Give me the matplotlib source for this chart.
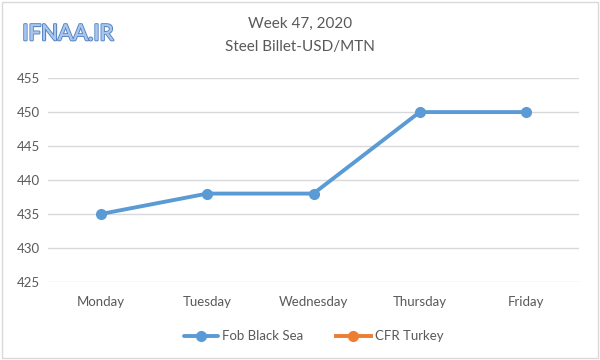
import matplotlib
matplotlib.use("Agg")
import matplotlib.pyplot as plt
import matplotlib.patheffects as pe
from matplotlib.patches import Rectangle

days = ["Monday", "Tuesday", "Wednesday", "Thursday", "Friday"]
fob_black_sea = [435, 438, 438, 450, 450]
cfr_turkey = [None, None, None, None, None]
yticks = [425, 430, 435, 440, 445, 450, 455]

plt.rcParams['font.family'] = ['Lato', 'DejaVu Sans']

fig = plt.figure(figsize=(6, 3.6), dpi=100)
ax = fig.add_axes([0.08, 0.217, 0.885, 0.566])

x = list(range(len(days)))
ax.plot(x, fob_black_sea, color="#5B9BD5", lw=2.8, marker="o", ms=7,
        label="Fob Black Sea", solid_capstyle="round")
cfr_vals = [float('nan') if v is None else v for v in cfr_turkey]
ax.plot(x, cfr_vals, color="#ED7D31", lw=2.8, marker="o", ms=7, label="CFR Turkey")

ax.set_xlim(-0.5, len(days) - 0.5)
ax.set_ylim(425, 455)
ax.set_yticks(yticks)
ax.set_xticks(x)
ax.set_xticklabels(days)
ax.grid(axis="y", color="#D9D9D9", lw=1)
ax.set_axisbelow(True)
for s in ax.spines.values():
    s.set_visible(False)
ax.tick_params(length=0, colors="#595959", labelsize=9.5, pad=10)
ax.tick_params(axis="y", pad=6)

fig.text(0.5, 0.935, "Week 47, 2020", ha="center", va="center", fontsize=11, color="#595959")
fig.text(0.5, 0.87, "Steel Billet-USD/MTN", ha="center", va="center", fontsize=11, color="#595959")

t = fig.text(0.113, 0.905, "IFNAA.IR", ha="center", va="center", fontsize=16,
             color="#A9C6EC", fontweight="normal")
t.set_path_effects([pe.withStroke(linewidth=1.6, foreground="#5A86C5"), pe.Normal()])

leg = ax.legend(loc="upper center", bbox_to_anchor=(0.5, -0.18), ncol=2, frameon=False,
                fontsize=9.5, handlelength=2.6, columnspacing=2.5, handletextpad=0.3)
for txt in leg.get_texts():
    txt.set_color("#595959")

fig.patches.append(Rectangle((0.004, 0.006), 0.992, 0.988, transform=fig.transFigure,
                             fill=False, edgecolor="#D9D9D9", lw=1))

fig.savefig("out.png", dpi=100)
